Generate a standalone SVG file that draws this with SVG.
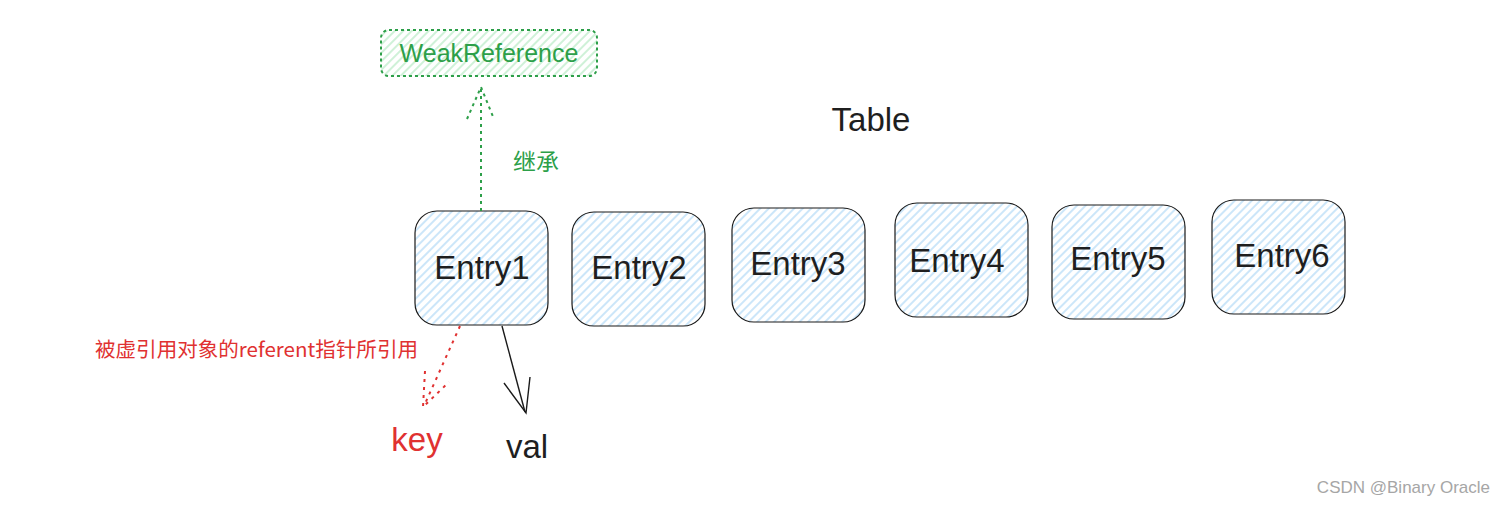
<svg xmlns="http://www.w3.org/2000/svg" width="1505" height="506" viewBox="0 0 1505 506">
<defs>
<pattern id="hb" width="6" height="6" patternUnits="userSpaceOnUse" patternTransform="rotate(45)">
<line x1="1" y1="0" x2="1" y2="6" stroke="#b6dcf7" stroke-width="1.4"/>
</pattern>
<pattern id="hg" width="6" height="6" patternUnits="userSpaceOnUse" patternTransform="rotate(45)">
<line x1="1" y1="0" x2="1" y2="6" stroke="#bfeccb" stroke-width="1.5"/>
</pattern>
<style>
.box{fill:url(#hb);stroke:#1a1a1a;stroke-width:1.2}
.lbl{font-family:"Liberation Sans",Arial,sans-serif;font-size:33px;fill:#1f1f1f;text-anchor:middle}
.cjk{font-family:"Noto Sans CJK SC","Liberation Sans",sans-serif}
</style>
</defs>
<rect width="1505" height="506" fill="#fff"/>

<g id="weakref">
<rect x="381" y="30" width="216" height="46" rx="8" fill="url(#hg)" stroke="#2d9f49" stroke-width="2" stroke-dasharray="3 3"/>
<text x="489" y="62" text-anchor="middle" font-family="Liberation Sans,Arial,sans-serif" font-size="25" fill="#2d9f49">WeakReference</text>
</g>

<g id="table"><text x="871" y="131" class="lbl">Table</text></g>

<g id="entry1"><rect class="box" x="415" y="211" width="133" height="114" rx="22"/><text class="lbl" x="482" y="279">Entry1</text></g>
<g id="entry2"><rect class="box" x="572" y="212" width="133" height="114" rx="22"/><text class="lbl" x="639" y="279">Entry2</text></g>
<g id="entry3"><rect class="box" x="732" y="208" width="133" height="114" rx="22"/><text class="lbl" x="798" y="275">Entry3</text></g>
<g id="entry4"><rect class="box" x="895" y="203" width="133" height="114" rx="22"/><text class="lbl" x="957" y="272">Entry4</text></g>
<g id="entry5"><rect class="box" x="1052" y="205" width="133" height="114" rx="22"/><text class="lbl" x="1118" y="270">Entry5</text></g>
<g id="entry6"><rect class="box" x="1212" y="200" width="133" height="114" rx="22"/><text class="lbl" x="1282" y="267">Entry6</text></g>

<g id="key"><text x="417" y="451" class="lbl" style="fill:#e03131">key</text></g>
<g id="val"><text x="527" y="458" class="lbl">val</text></g>

<g id="connectors" fill="none">
<g stroke="#2d9f49" stroke-width="2" stroke-dasharray="3 4">
<line x1="481" y1="211" x2="481" y2="88"/>
<polyline points="467,119 481,87 494,119"/>
</g>
<text x="536" y="170" text-anchor="middle" class="cjk" font-size="23" fill="#2d9f49" stroke="none">继承</text>
<g stroke="#e03131" stroke-width="2" stroke-dasharray="3 5">
<line x1="460" y1="326" x2="424" y2="406"/>
<polyline points="425,371 423,407 449,382"/>
</g>
<text x="95" y="357" class="cjk" font-size="20" fill="#e03131" stroke="none" textLength="323" lengthAdjust="spacingAndGlyphs">被虚引用对象的referent指针所引用</text>
<g stroke="#1a1a1a" stroke-width="1.4">
<line x1="502" y1="326" x2="525" y2="412"/>
<polyline points="504,383 526,413 530,377"/>
</g>
</g>

<text x="1490" y="493" text-anchor="end" font-family="Liberation Sans,Arial,sans-serif" font-size="17" fill="#a6a6a6">CSDN @Binary Oracle</text>
</svg>
